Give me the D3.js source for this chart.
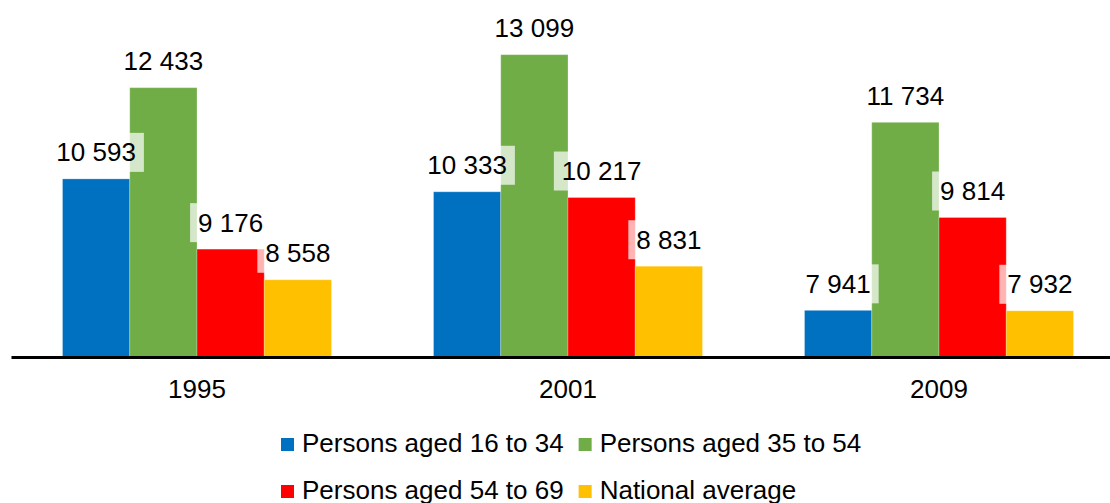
<!DOCTYPE html>
<html>
<head>
<meta charset="utf-8">
<script src="https://cdn.jsdelivr.net/npm/d3@7"></script>
<style>
  html, body { margin: 0; padding: 0; background: #ffffff; }
  svg { display: block; font-family: "Liberation Sans", Arial, sans-serif; }
</style>
</head>
<body>
<svg id="chart" width="1110" height="503"></svg>
<script>
// Expenditure per capita, by age group of persons
const years = ["1995", "2001", "2009"];
const seriesNames = ["Persons aged 16 to 34", "Persons aged 35 to 54", "Persons aged 54 to 69", "National average"];
const aged16to34 = [10593, 10333, 7941];
const aged35to54 = [12433, 13099, 11734];
const aged54to69 = [9176, 10217, 9814];
const nationalAverage = [8558, 8831, 7932];
const seriesColors = ["#0070c0", "#70ad47", "#ff0000", "#ffc000"];
const titleText = "Expenditure per capita by age group";

const seriesValues = [aged16to34, aged35to54, aged54to69, nationalAverage];
const rows = years.map((y, i) => ({
  year: y,
  values: seriesNames.map((s, j) => ({ series: s, value: seriesValues[j][i], color: seriesColors[j] }))
}));

const svg = d3.select("#chart");
const baseY = 357;

const x0 = d3.scaleBand().domain(years).range([11.5, 1124.5]).paddingInner(0.275).paddingOuter(0.1375);
const x1 = d3.scaleBand().domain(seriesNames).range([0, x0.bandwidth()]);
const y = d3.scaleLinear().domain([7000, 14000]).range([baseY, 10]);

const fmt = v => d3.format(",")(v).replace(/,/g, " ");

// title (sits above the top edge; only its descenders reach into view)
svg.append("text")
  .attr("x", 590).attr("y", -7)
  .attr("text-anchor", "middle")
  .attr("font-size", 26).attr("font-weight", "bold")
  .attr("fill", "#000")
  .text(titleText);

// bars
const groups = svg.append("g").selectAll("g").data(rows).join("g")
  .attr("transform", d => `translate(${x0(d.year)},0)`);

groups.selectAll("rect").data(d => d.values).join("rect")
  .attr("x", d => x1(d.series))
  .attr("width", x1.bandwidth())
  .attr("y", d => y(d.value))
  .attr("height", d => baseY - y(d.value))
  .attr("fill", d => d.color)
  .attr("stroke", "rgba(255,255,255,0.25)")
  .attr("stroke-width", 1);

// value labels with translucent white boxes
const labelLayer = svg.append("g");
rows.forEach(r => {
  r.values.forEach(d => {
    const cx = x0(r.year) + x1(d.series) + x1.bandwidth() / 2;
    const boxBottom = y(d.value) - 7;
    const g = labelLayer.append("g");
    const box = g.append("rect").attr("fill", "#ffffff").attr("fill-opacity", 0.7);
    const t = g.append("text")
      .attr("x", cx).attr("y", boxBottom - 19.5)
      .attr("text-anchor", "middle")
      .attr("dominant-baseline", "central")
      .attr("font-size", 26)
      .attr("fill", "#000")
      .text(fmt(d.value));
    const w = t.node().getComputedTextLength() + 16;
    box.attr("x", cx - w / 2).attr("y", boxBottom - 39).attr("width", w).attr("height", 39);
  });
});

// category axis
const axis = svg.append("g")
  .attr("transform", `translate(0,${baseY})`)
  .call(d3.axisBottom(x0).tickSize(0).tickPadding(0));
axis.select(".domain").attr("stroke", "#000").attr("stroke-width", 3).attr("d", "M11.5,0.5H1124.5");
axis.selectAll("text")
  .attr("dy", null).attr("y", 41)
  .attr("font-size", 26)
  .attr("font-family", "Liberation Sans, Arial, sans-serif")
  .attr("fill", "#000");

// legend in two rows
const legendRows = [[0, 1], [2, 3]];
const legendRowY = [452, 499];
const legend = svg.append("g");
legendRows.forEach((idxs, ri) => {
  let cx = 281;
  idxs.forEach(j => {
    legend.append("rect")
      .attr("x", cx).attr("y", legendRowY[ri] - 14)
      .attr("width", 13).attr("height", 13)
      .attr("fill", seriesColors[j]);
    const t = legend.append("text")
      .attr("x", cx + 21).attr("y", legendRowY[ri])
      .attr("font-size", 26).attr("fill", "#000")
      .text(seriesNames[j]);
    cx += 21 + t.node().getComputedTextLength() + 15;
  });
});
</script>
</body>
</html>
